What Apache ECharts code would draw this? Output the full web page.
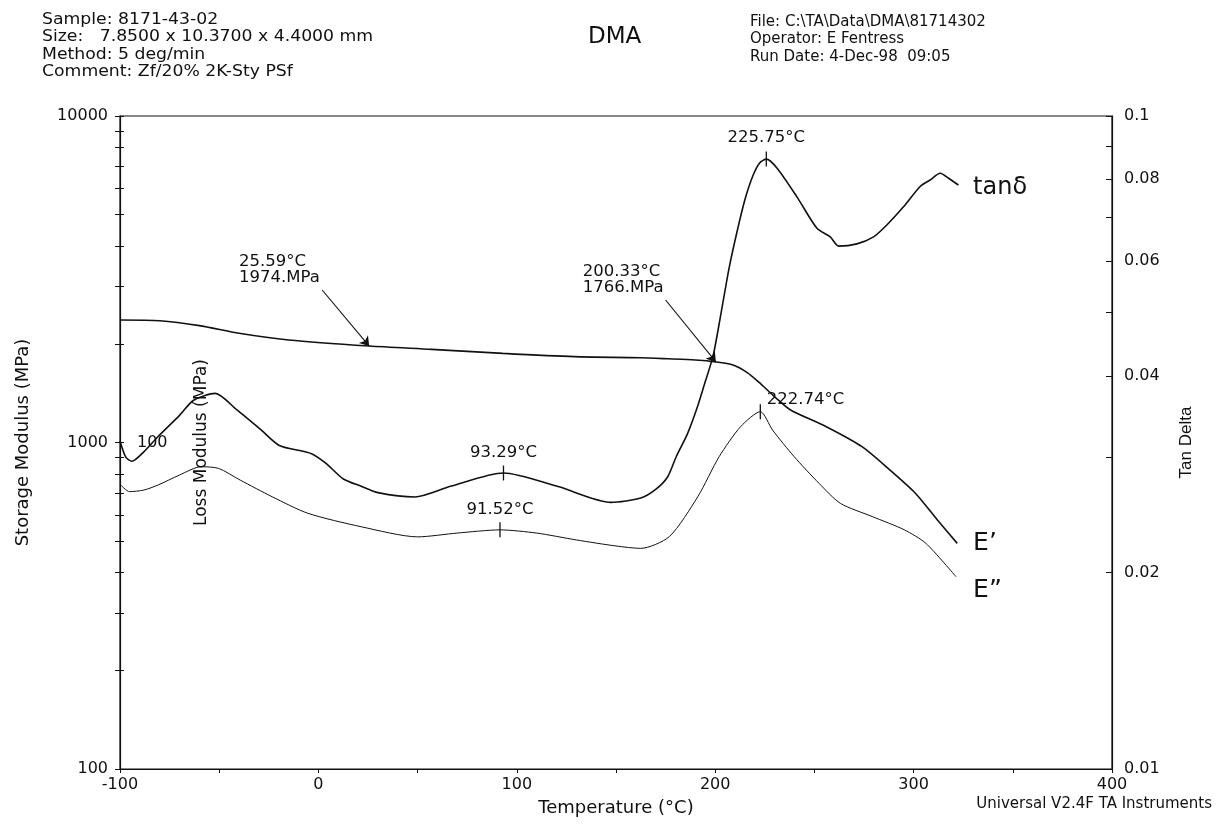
<!DOCTYPE html>
<html>
<head>
<meta charset="utf-8">
<script src="https://cdn.jsdelivr.net/npm/echarts@6/dist/echarts.min.js"></script>
<style>
html,body{margin:0;padding:0;background:#fff;}
#chart{width:1217px;height:830px;}
</style>
</head>
<body>
<div id="chart"></div>
<script>
// ---- data ----
const ePrimeT = [-100,-80,-60,-40,-15,25.59,57,93,129,162,176,190,200.33,209,216,222,230,238,256,274,288,301,312,322];
const ePrimeV = [2372,2360,2280,2160,2060,1974,1929,1875,1832,1818,1805,1790,1766,1728,1640,1530,1380,1258,1118,971,824,698,579,491];

const tanT = [-100,-97,-94,-88,-80.8,-70,-62.9,-52,-41.2,-28.6,-19.7,-3.5,3.7,12.6,21.6,30,48.6,66.6,93.29,120.4,147.4,162.5,170,176,180.4,186,191.1,195,199,203,207,211,215,219,222.5,225.75,231.2,241.2,251.3,258,262.2,271.4,279.8,286.5,294.9,303.3,308.3,313.4,317.6,322.6];
const tanV = [0.0318,0.0300,0.0296,0.0306,0.0323,0.0348,0.0367,0.0376,0.0355,0.0330,0.0313,0.0304,0.0294,0.0278,0.0271,0.0265,0.0261,0.0271,0.0284,0.0271,0.0256,0.0260,0.0268,0.0280,0.0301,0.0326,0.0359,0.0392,0.0430,0.0500,0.0585,0.0665,0.0745,0.0810,0.0848,0.0859,0.0832,0.0752,0.0673,0.0653,0.0632,0.0637,0.0653,0.0681,0.0726,0.0780,0.0798,0.0817,0.0803,0.0784];

const lossT = [-100,-95.2,-88,-80.8,-70,-59.2,-50.3,-39.4,-23.3,-5.3,21.6,50,70,91.52,110,130,150,162.5,176.9,191.2,202,212.8,222.74,228.9,239.8,252.3,263.1,279.2,295.4,306.2,321.4];
const lossV = [74.5,70.7,71.5,74.1,79.5,84.3,83.3,76.7,68.2,60.7,55.2,51.4,52.8,54.0,52.8,50.3,48.2,47.4,51.5,68.2,90.5,111.8,124.3,109.2,90.5,75.0,65.1,59.3,54.0,49.1,38.8];

const storageLabels = [100, 1000, 10000];
const storageTicks = [100,200,300,400,500,600,700,800,900,1000,2000,3000,4000,5000,6000,7000,8000,9000,10000];
const lossTicks = [10,20,30,40,50,60,70,80,90,100,200,300,400,500,600,700,800,900,1000];
const lossLabels = [100];
const tanLabels = [0.01, 0.02, 0.04, 0.06, 0.08, 0.1];
const tanTicks = [0.01,0.02,0.03,0.04,0.05,0.06,0.07,0.08,0.09,0.1];

const headerLeft = ['Sample: 8171-43-02', 'Size:   7.8500 x 10.3700 x 4.4000 mm', 'Method: 5 deg/min', 'Comment: Zf/20% 2K-Sty PSf'];
const headerRight = ['File: C:\\TA\\Data\\DMA\\81714302', 'Operator: E Fentress', 'Run Date: 4-Dec-98  09:05'];

// annotation arrows (data space)
const arrowPts = [ {from:[1.9, 2931], to:[25.59, 1974]}, {from:[175, 2732], to:[200.33, 1766]} ];

const pair = (t, v) => t.map((x, i) => [x, v[i]]);
const FONT = 'DejaVu Sans, Liberation Sans, Arial, sans-serif';
const FONT2 = 'Liberation Sans, Arial, Helvetica, sans-serif';
const INK = '#111';
const plain = v => String(+(+v).toPrecision(6));

const chart = echarts.init(document.getElementById('chart'));

const option = {
  animation: false,
  backgroundColor: '#fff',
  grid: { left: 120, right: 105, top: 116, bottom: 61, show: true, borderColor: INK, borderWidth: 1.2, backgroundColor: 'transparent' },
  xAxis: {
    type: 'value', min: -100, max: 400, interval: 100,
    name: 'Temperature (°C)', nameLocation: 'middle', nameGap: 30,
    nameTextStyle: { fontFamily: FONT, fontSize: 18, color: INK },
    axisLine: { onZero: false, lineStyle: { color: INK, width: 1.2 } },
    axisTick: { show: true, inside: false, length: 4, lineStyle: { color: INK } },
    minorTick: { show: true, splitNumber: 2, length: 4, lineStyle: { color: INK } },
    axisLabel: { fontFamily: FONT, fontSize: 16, color: INK, margin: 8 },
    splitLine: { show: false }
  },
  yAxis: [
    {
      type: 'log', logBase: 10, min: 100, max: 10000, position: 'left',
      name: 'Storage Modulus (MPa)', nameLocation: 'middle', nameGap: 88, nameRotate: 90,
      nameTextStyle: { fontFamily: FONT, fontSize: 18, color: INK },
      axisLine: { show: true, onZero: false, lineStyle: { color: INK, width: 1.2 } },
      axisTick: { show: true, inside: false, length: 5, customValues: storageTicks, lineStyle: { color: INK } },
      axisLabel: { fontFamily: FONT, fontSize: 16, color: INK, margin: 12, customValues: storageLabels, formatter: plain },
      splitLine: { show: false }
    },
    {
      type: 'log', logBase: 10, min: 0.01, max: 0.1, position: 'right',
      name: 'Tan Delta', nameLocation: 'middle', nameGap: 66, nameRotate: 90,
      nameTextStyle: { fontFamily: FONT2, fontSize: 17, color: INK },
      axisLine: { show: true, onZero: false, lineStyle: { color: INK, width: 1.2 } },
      axisTick: { show: true, inside: true, length: 6, customValues: tanTicks, lineStyle: { color: INK } },
      axisLabel: { fontFamily: FONT, fontSize: 16, color: INK, margin: 12, customValues: tanLabels, formatter: plain },
      splitLine: { show: false }
    },
    {
      type: 'log', logBase: 10, min: 10, max: 1000, position: 'left',
      name: 'Loss Modulus (MPa)', nameLocation: 'middle', nameGap: -90, nameRotate: 90,
      nameTextStyle: { fontFamily: FONT, fontSize: 17, color: INK },
      axisLine: { show: false, onZero: false },
      axisTick: { show: true, inside: true, length: 4, customValues: lossTicks, lineStyle: { color: INK } },
      axisLabel: { inside: true, fontFamily: FONT, fontSize: 16, color: INK, margin: 17, customValues: lossLabels, formatter: plain },
      splitLine: { show: false }
    }
  ],
  series: [
    {
      name: "E'", type: 'line', yAxisIndex: 0, data: pair(ePrimeT, ePrimeV),
      smooth: 0.25, showSymbol: false, lineStyle: { color: INK, width: 1.6 },
      markLine: {
        silent: true, symbol: ['none', 'arrow'], symbolSize: 9,
        label: { show: false },
        lineStyle: { color: INK, width: 1.1, type: 'solid' },
        data: arrowPts.map(a => [{ coord: a.from }, { coord: a.to }])
      }
    },
    {
      name: 'tan delta', type: 'line', yAxisIndex: 1, data: pair(tanT, tanV),
      smooth: 0.25, showSymbol: false, lineStyle: { color: INK, width: 1.6 },
      markPoint: {
        silent: true, symbol: 'rect', symbolSize: [1.3, 15], itemStyle: { color: INK },
        label: { show: false },
        data: [ { coord: [225.75, 0.0859] }, { coord: [93.29, 0.0284] } ]
      }
    },
    {
      name: "E''", type: 'line', yAxisIndex: 2, data: pair(lossT, lossV),
      smooth: 0.25, showSymbol: false, lineStyle: { color: INK, width: 1.0 },
      markPoint: {
        silent: true, symbol: 'rect', symbolSize: [1.3, 15], itemStyle: { color: INK },
        label: { show: false },
        data: [ { coord: [222.74, 124.3] }, { coord: [91.52, 54.0] } ]
      }
    }
  ]
};
chart.setOption(option);

// text annotations placed at data coordinates through the chart's own scales
const annots = [
  { y: 0, at: [-40, 3800], text: '25.59°C\n1974.MPa', align: 'left', va: 'top', size: 16.5 },
  { y: 0, at: [133.3, 3546], text: '200.33°C\n1766.MPa', align: 'left', va: 'top', size: 16.5 },
  { y: 1, at: [225.75, 0.0925], text: '225.75°C', align: 'center', va: 'middle', size: 16.5 },
  { y: 1, at: [93.29, 0.0305], text: '93.29°C', align: 'center', va: 'middle', size: 16.5 },
  { y: 2, at: [91.52, 62.1], text: '91.52°C', align: 'center', va: 'middle', size: 16.5 },
  { y: 2, at: [226, 135], text: '222.74°C', align: 'left', va: 'middle', size: 16.5 },
  { y: 1, at: [330, 0.0776], text: 'tanδ', align: 'left', va: 'middle', size: 24 },
  { y: 0, at: [330, 489], text: 'E’', align: 'left', va: 'middle', size: 25 },
  { y: 2, at: [330, 35.3], text: 'E”', align: 'left', va: 'middle', size: 25 }
];
const graphics = annots.map(a => {
  const p = chart.convertToPixel({ xAxisIndex: 0, yAxisIndex: a.y }, a.at);
  return { type: 'text', x: p[0], y: p[1], silent: true,
    style: { text: a.text, fill: INK, font: a.size + 'px ' + FONT, align: a.align, verticalAlign: a.va, lineHeight: a.size } };
});
graphics.push(
  { type: 'text', x: 42, y: 11, scaleX: 1.15, silent: true,
    style: { text: headerLeft.join('\n'), fill: INK, font: '15px ' + FONT, lineHeight: 17.5 } },
  { type: 'text', left: 588, top: 26, silent: true,
    style: { text: 'DMA', fill: INK, font: '23px ' + FONT } },
  { type: 'text', left: 750, top: 13, silent: true,
    style: { text: headerRight.join('\n'), fill: INK, font: '15px ' + FONT, lineHeight: 17.5 } },
  { type: 'text', right: 5, top: 797, silent: true,
    style: { text: 'Universal V2.4F TA Instruments', fill: INK, font: '15px ' + FONT } }
);
chart.setOption({ graphic: graphics });
</script>
</body>
</html>
